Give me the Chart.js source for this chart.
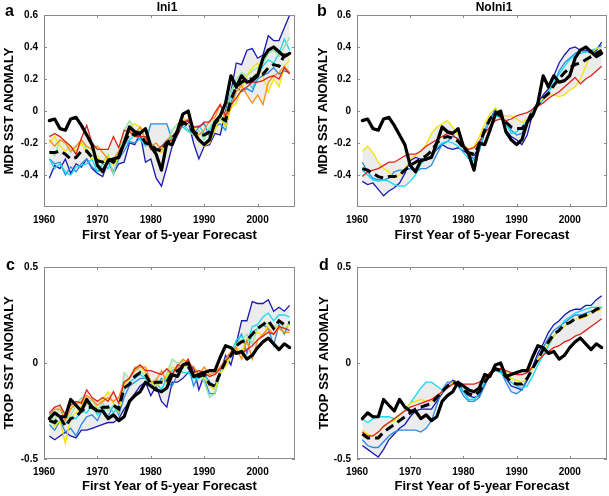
<!DOCTYPE html>
<html>
<head>
<meta charset="utf-8">
<script src="https://cdn.jsdelivr.net/npm/chart.js@4.4.0/dist/chart.umd.min.js"></script>
<style>
html, body { margin: 0; padding: 0; background: #fff; }
#wrap { position: relative; width: 609px; height: 496px; overflow: hidden; }
canvas { position: absolute; }
</style>
</head>
<body>
<div id="wrap">
	<canvas id="cA" width="304" height="248" style="left:0;top:0"></canvas>
	<canvas id="cB" width="305" height="248" style="left:304px;top:0"></canvas>
	<canvas id="cC" width="304" height="248" style="left:0;top:248px"></canvas>
	<canvas id="cD" width="305" height="248" style="left:304px;top:248px"></canvas>
</div>
<script>
var years = [1961,1962,1963,1964,1965,1966,1967,1968,1969,1970,
	1971,1972,1973,1974,1975,1976,1977,1978,1979,1980,
	1981,1982,1983,1984,1985,1986,1987,1988,1989,1990,
	1991,1992,1993,1994,1995,1996,1997,1998,1999,2000,
	2001,2002,2003,2004,2005,2006];

// observed (thick black)
var mdrObs = [-0.06,-0.05,-0.11,-0.12,-0.05,-0.04,-0.09,-0.15,-0.21,-0.34,
	-0.38,-0.31,-0.30,-0.29,-0.20,-0.10,-0.13,-0.14,-0.11,-0.22,
	-0.27,-0.37,-0.20,-0.21,-0.12,-0.02,0.00,-0.13,-0.18,-0.21,
	-0.18,-0.07,-0.03,0.05,0.22,0.15,0.22,0.18,0.19,0.22,
	0.33,0.38,0.40,0.37,0.34,0.36];
var tropObs = [-0.29,-0.26,-0.28,-0.28,-0.19,-0.22,-0.25,-0.19,-0.23,-0.25,
	-0.25,-0.29,-0.27,-0.30,-0.28,-0.20,-0.17,-0.15,-0.10,-0.12,
	-0.14,-0.15,-0.13,-0.06,-0.07,-0.01,0.00,-0.07,-0.06,-0.05,
	-0.04,-0.04,0.03,0.09,0.08,0.05,0.06,0.02,0.04,0.08,
	0.11,0.13,0.10,0.07,0.10,0.08];

// a : Ini1 MDR
var a_dblue = [-0.42,-0.34,-0.36,-0.30,-0.39,-0.33,-0.35,-0.30,-0.36,-0.39,
	-0.41,-0.31,-0.39,-0.33,-0.32,-0.20,-0.21,-0.14,-0.32,-0.30,
	-0.42,-0.47,-0.35,-0.22,-0.15,-0.08,-0.06,-0.20,-0.30,-0.22,
	-0.21,-0.14,-0.15,0.00,0.12,0.30,0.29,0.38,0.39,0.33,
	0.35,0.47,0.44,0.44,0.52,0.60];
var a_blue = [-0.30,-0.33,-0.32,-0.40,-0.35,-0.38,-0.33,-0.30,-0.35,-0.38,
	-0.36,-0.32,-0.38,-0.30,-0.25,-0.19,-0.20,-0.17,-0.20,-0.08,
	-0.08,-0.08,-0.08,-0.18,-0.15,-0.08,-0.12,-0.15,-0.10,-0.08,
	-0.16,-0.10,-0.08,-0.12,0.05,0.15,0.12,0.14,0.12,0.20,
	0.22,0.24,0.27,0.23,0.25,0.24];
var a_cyan = [-0.30,-0.36,-0.33,-0.38,-0.40,-0.35,-0.34,-0.33,-0.30,-0.38,
	-0.33,-0.36,-0.30,-0.28,-0.22,-0.18,-0.15,-0.18,-0.22,-0.20,
	-0.24,-0.22,-0.18,-0.17,-0.13,-0.10,-0.13,-0.10,-0.09,-0.14,
	-0.12,-0.07,-0.02,-0.10,0.12,0.18,0.17,0.20,0.14,0.22,
	0.28,0.32,0.30,0.36,0.45,0.38];
var a_green = [-0.25,-0.28,-0.18,-0.20,-0.26,-0.22,-0.18,-0.24,-0.28,-0.30,
	-0.32,-0.27,-0.40,-0.26,-0.12,-0.06,-0.13,-0.12,-0.17,-0.22,
	-0.24,-0.25,-0.20,-0.12,-0.08,-0.06,-0.13,-0.15,-0.12,-0.18,
	-0.10,-0.05,-0.06,-0.02,0.12,0.20,0.24,0.22,0.25,0.27,
	0.30,0.36,0.38,0.34,0.40,0.46];
var a_yellow = [-0.20,-0.16,-0.22,-0.25,-0.22,-0.25,-0.20,-0.26,-0.30,-0.28,
	-0.33,-0.28,-0.34,-0.28,-0.18,-0.10,-0.08,-0.10,-0.13,-0.22,
	-0.25,-0.26,-0.22,-0.18,-0.12,-0.04,-0.08,-0.10,-0.17,-0.22,
	-0.20,-0.12,-0.04,-0.10,0.02,0.05,0.14,0.22,0.27,0.30,
	0.22,0.12,0.20,0.15,0.28,0.32];
var a_orange = [-0.18,-0.22,-0.18,-0.20,-0.25,-0.22,-0.18,-0.22,-0.24,-0.22,
	-0.26,-0.30,-0.30,-0.25,-0.20,-0.12,-0.14,-0.10,-0.18,-0.22,
	-0.20,-0.24,-0.18,-0.16,-0.12,-0.07,-0.05,-0.12,-0.15,-0.12,
	-0.06,-0.04,0.04,-0.05,0.02,0.12,0.16,0.10,0.05,0.10,
	0.04,0.18,0.22,0.24,0.28,0.24];
var a_red = [-0.16,-0.14,-0.16,-0.19,-0.22,-0.27,-0.17,-0.09,-0.20,-0.24,
	-0.24,-0.24,-0.16,-0.23,-0.12,-0.13,-0.16,-0.16,-0.16,-0.24,
	-0.25,-0.22,-0.19,-0.18,-0.15,-0.07,-0.06,-0.10,-0.10,-0.07,
	-0.07,-0.01,0.04,-0.03,0.04,0.08,0.13,0.15,0.18,0.18,
	0.19,0.21,0.22,0.20,0.27,0.23];
var a_mean = [-0.26,-0.26,-0.25,-0.27,-0.30,-0.29,-0.25,-0.25,-0.29,-0.31,
	-0.32,-0.30,-0.32,-0.28,-0.20,-0.14,-0.15,-0.14,-0.20,-0.21,
	-0.24,-0.25,-0.20,-0.17,-0.13,-0.07,-0.09,-0.13,-0.15,-0.15,
	-0.13,-0.08,-0.04,-0.06,0.07,0.15,0.18,0.20,0.20,0.23,
	0.23,0.27,0.29,0.28,0.35,0.35];

// b : NoIni1 MDR
var b_dblue = [-0.44,-0.46,-0.45,-0.49,-0.53,-0.50,-0.48,-0.45,-0.39,-0.31,
	-0.29,-0.30,-0.31,-0.28,-0.24,-0.21,-0.23,-0.24,-0.23,-0.25,
	-0.27,-0.28,-0.22,-0.12,-0.05,0.00,-0.02,-0.12,-0.16,-0.18,
	-0.21,-0.15,-0.02,0.05,0.10,0.14,0.22,0.30,0.35,0.39,
	0.40,0.38,0.38,0.36,0.38,0.43];
var b_blue = [-0.32,-0.38,-0.42,-0.43,-0.43,-0.42,-0.38,-0.37,-0.37,-0.36,
	-0.38,-0.36,-0.36,-0.34,-0.27,-0.21,-0.19,-0.16,-0.17,-0.23,
	-0.27,-0.30,-0.25,-0.14,-0.05,0.01,-0.01,-0.08,-0.12,-0.15,
	-0.14,-0.06,0.01,0.04,0.08,0.12,0.17,0.25,0.30,0.33,
	0.36,0.38,0.37,0.37,0.39,0.41];
var b_cyan = [-0.37,-0.40,-0.43,-0.44,-0.43,-0.44,-0.46,-0.47,-0.47,-0.44,
	-0.40,-0.33,-0.30,-0.28,-0.23,-0.20,-0.19,-0.20,-0.22,-0.26,
	-0.30,-0.31,-0.24,-0.12,-0.05,-0.03,-0.04,-0.08,-0.14,-0.13,
	-0.10,-0.06,0.00,0.03,0.07,0.12,0.18,0.23,0.28,0.32,
	0.35,0.36,0.37,0.38,0.39,0.40];
var b_yellow = [-0.25,-0.22,-0.26,-0.32,-0.36,-0.38,-0.42,-0.40,-0.36,-0.30,
	-0.28,-0.25,-0.21,-0.14,-0.10,-0.08,-0.06,-0.10,-0.15,-0.21,
	-0.24,-0.22,-0.16,-0.08,-0.02,0.02,-0.02,-0.03,-0.03,-0.05,
	-0.07,-0.05,-0.01,0.05,0.08,0.10,0.10,0.09,0.10,0.13,
	0.15,0.20,0.28,0.36,0.39,0.40];
var b_red = [-0.41,-0.38,-0.37,-0.36,-0.34,-0.32,-0.32,-0.30,-0.28,-0.27,
	-0.27,-0.25,-0.22,-0.20,-0.18,-0.16,-0.14,-0.15,-0.18,-0.22,
	-0.24,-0.23,-0.19,-0.14,-0.10,-0.06,-0.05,-0.06,-0.05,-0.03,
	-0.02,-0.01,0.01,0.03,0.05,0.08,0.10,0.12,0.15,0.18,
	0.21,0.17,0.20,0.22,0.25,0.28];
var b_mean = [-0.36,-0.37,-0.39,-0.41,-0.42,-0.41,-0.41,-0.40,-0.37,-0.34,
	-0.32,-0.30,-0.28,-0.25,-0.20,-0.17,-0.16,-0.17,-0.19,-0.23,
	-0.26,-0.27,-0.21,-0.12,-0.05,-0.01,-0.03,-0.07,-0.10,-0.11,
	-0.11,-0.07,0.00,0.04,0.08,0.11,0.16,0.20,0.24,0.27,
	0.29,0.30,0.32,0.34,0.36,0.38];

// c : Ini1 TROP
var c_dblue = [-0.38,-0.40,-0.38,-0.36,-0.38,-0.39,-0.35,-0.35,-0.34,-0.33,
	-0.32,-0.31,-0.31,-0.29,-0.24,-0.20,-0.16,-0.12,-0.10,-0.17,
	-0.12,-0.20,-0.23,-0.10,-0.10,-0.08,-0.05,-0.02,-0.14,-0.06,
	-0.10,-0.12,-0.05,0.04,-0.01,0.10,0.22,0.22,0.32,0.31,
	0.31,0.33,0.27,0.29,0.27,0.30];
var c_blue = [-0.32,-0.35,-0.30,-0.36,-0.34,-0.38,-0.32,-0.28,-0.27,-0.30,
	-0.24,-0.28,-0.22,-0.27,-0.18,-0.12,-0.10,-0.08,-0.08,-0.10,
	-0.12,-0.08,-0.10,-0.12,-0.06,-0.02,-0.01,-0.12,-0.06,-0.08,
	-0.16,-0.16,-0.06,0.02,0.03,0.10,0.15,0.05,0.16,0.18,
	0.20,0.18,0.09,0.20,0.15,0.22];
var c_cyan = [-0.30,-0.32,-0.30,-0.32,-0.28,-0.29,-0.25,-0.26,-0.22,-0.27,
	-0.25,-0.22,-0.26,-0.22,-0.14,-0.10,-0.08,-0.06,-0.08,-0.12,
	-0.10,-0.14,-0.08,-0.04,-0.02,-0.05,-0.05,-0.08,-0.08,-0.06,
	-0.10,-0.14,-0.05,0.00,0.05,0.12,0.14,0.10,0.19,0.20,
	0.24,0.26,0.22,0.25,0.25,0.24];
var c_green = [-0.26,-0.30,-0.22,-0.30,-0.27,-0.22,-0.18,-0.22,-0.19,-0.24,
	-0.21,-0.25,-0.22,-0.26,-0.05,-0.08,-0.02,-0.04,-0.07,-0.12,
	-0.08,-0.10,-0.06,0.02,0.00,0.01,-0.02,-0.06,-0.04,-0.10,
	-0.18,-0.16,-0.06,0.00,0.05,0.10,0.12,0.15,0.10,0.18,
	0.20,0.21,0.18,0.22,0.18,0.21];
var c_yellow = [-0.28,-0.33,-0.30,-0.42,-0.28,-0.26,-0.22,-0.18,-0.24,-0.22,
	-0.19,-0.15,-0.21,-0.25,-0.12,-0.08,-0.03,-0.02,-0.05,-0.10,
	-0.12,-0.10,-0.07,-0.02,-0.04,-0.02,-0.01,-0.05,-0.06,-0.08,
	-0.12,-0.14,-0.05,-0.02,0.04,0.08,0.06,0.12,0.15,0.16,
	0.14,0.20,0.18,0.19,0.18,0.20];
var c_orange = [-0.27,-0.24,-0.24,-0.30,-0.24,-0.21,-0.20,-0.17,-0.19,-0.22,
	-0.20,-0.18,-0.20,-0.18,-0.10,-0.08,-0.04,-0.02,-0.02,-0.10,
	-0.09,-0.04,-0.10,-0.06,-0.02,0.02,0.00,-0.02,-0.06,-0.02,
	-0.06,-0.05,-0.02,0.02,0.06,0.08,0.02,0.12,0.02,0.12,
	0.15,0.18,0.15,0.18,0.16,0.16];
var c_red = [-0.26,-0.23,-0.22,-0.27,-0.22,-0.20,-0.21,-0.14,-0.18,-0.20,
	-0.18,-0.20,-0.15,-0.21,-0.10,-0.08,-0.03,-0.01,-0.04,-0.04,
	-0.05,-0.06,-0.03,-0.06,-0.01,-0.02,0.02,-0.05,-0.04,-0.05,
	-0.07,-0.06,-0.03,0.01,0.04,0.06,0.05,0.07,0.09,0.12,
	0.14,0.16,0.15,0.19,0.18,0.17];
var c_mean = [-0.30,-0.31,-0.28,-0.33,-0.29,-0.28,-0.25,-0.23,-0.23,-0.25,
	-0.23,-0.23,-0.22,-0.24,-0.13,-0.11,-0.07,-0.05,-0.06,-0.11,
	-0.10,-0.10,-0.10,-0.05,-0.04,-0.02,-0.02,-0.06,-0.07,-0.06,
	-0.11,-0.12,-0.05,0.01,0.04,0.09,0.11,0.12,0.15,0.18,
	0.20,0.22,0.18,0.22,0.20,0.21];

// d : NoIni1 TROP
var d_dblue = [-0.43,-0.45,-0.47,-0.49,-0.45,-0.40,-0.37,-0.34,-0.32,-0.28,
	-0.25,-0.24,-0.24,-0.24,-0.20,-0.16,-0.12,-0.09,-0.10,-0.15,
	-0.17,-0.18,-0.17,-0.11,-0.07,-0.03,-0.04,-0.08,-0.12,-0.13,
	-0.14,-0.09,-0.02,0.05,0.10,0.16,0.20,0.22,0.25,0.27,
	0.28,0.28,0.30,0.30,0.33,0.35];
var d_blue = [-0.40,-0.43,-0.44,-0.44,-0.41,-0.38,-0.36,-0.35,-0.35,-0.35,
	-0.35,-0.36,-0.34,-0.30,-0.22,-0.14,-0.10,-0.10,-0.12,-0.17,
	-0.20,-0.20,-0.18,-0.12,-0.06,-0.02,-0.04,-0.10,-0.15,-0.16,
	-0.14,-0.08,-0.02,0.03,0.08,0.13,0.17,0.19,0.21,0.23,
	0.25,0.25,0.26,0.27,0.28,0.29];
var d_cyan = [-0.29,-0.31,-0.29,-0.28,-0.28,-0.28,-0.29,-0.27,-0.24,-0.21,
	-0.17,-0.13,-0.10,-0.10,-0.12,-0.14,-0.13,-0.10,-0.11,-0.15,
	-0.19,-0.19,-0.16,-0.10,-0.05,-0.04,-0.05,-0.08,-0.10,-0.12,
	-0.13,-0.12,-0.07,-0.01,0.04,0.09,0.14,0.18,0.22,0.24,
	0.26,0.27,0.28,0.29,0.29,0.29];
var d_yellow = [-0.35,-0.37,-0.38,-0.36,-0.33,-0.31,-0.30,-0.27,-0.24,-0.21,
	-0.20,-0.19,-0.20,-0.20,-0.18,-0.15,-0.12,-0.10,-0.10,-0.12,
	-0.14,-0.15,-0.12,-0.08,-0.05,-0.03,-0.03,-0.05,-0.08,-0.09,
	-0.10,-0.08,-0.03,0.02,0.07,0.10,0.14,0.17,0.19,0.21,
	0.23,0.23,0.24,0.26,0.27,0.28];
var d_red = [-0.36,-0.38,-0.38,-0.36,-0.33,-0.31,-0.29,-0.27,-0.25,-0.23,
	-0.22,-0.21,-0.20,-0.19,-0.17,-0.15,-0.13,-0.11,-0.11,-0.11,
	-0.11,-0.11,-0.10,-0.08,-0.05,-0.03,-0.03,-0.04,-0.05,-0.06,
	-0.06,-0.05,-0.02,0.01,0.04,0.06,0.08,0.09,0.11,0.12,
	0.14,0.15,0.17,0.19,0.21,0.23];
var d_mean = [-0.37,-0.39,-0.39,-0.39,-0.36,-0.34,-0.32,-0.30,-0.28,-0.26,
	-0.24,-0.23,-0.22,-0.21,-0.18,-0.15,-0.12,-0.10,-0.11,-0.14,
	-0.16,-0.17,-0.15,-0.10,-0.06,-0.03,-0.04,-0.07,-0.10,-0.11,
	-0.11,-0.08,-0.03,0.02,0.07,0.11,0.15,0.17,0.20,0.21,
	0.23,0.24,0.25,0.26,0.28,0.29];

var colDBlue = '#1a1ab0', colBlue = '#2a8ae4', colCyan = '#12dcf0', colGreen = '#8ee8a0',
	colYellow = '#f2e600', colOrange = '#ff8c12', colRed = '#e0201a';
var fontFam = '"Liberation Sans", Arial, Helvetica, sans-serif';

function toPts(arr) {
	var out = [];
	for (var i = 0; i < years.length; i++) {
		out.push({x: years[i], y: arr[i]});
	}
	return out;
}

// spread band of the members (min / max for each year)
function bandOf(members, useMax) {
	var out = [];
	for (var i = 0; i < years.length; i++) {
		var v = members[0].data[i];
		for (var k = 1; k < members.length; k++) {
			v = useMax ? Math.max(v, members[k].data[i]) : Math.min(v, members[k].data[i]);
		}
		out.push(v);
	}
	return out;
}

var framePlugin = {
	id: 'frame',
	afterDatasetsDraw: function(chart, args, o) {
		var ctx = chart.ctx, a = chart.chartArea;
		var xs = chart.scales.x, ys = chart.scales.y;
		ctx.save();
		ctx.strokeStyle = '#8a8a8a';
		ctx.lineWidth = 1;
		ctx.strokeRect(a.left + 0.5, a.top + 0.5, a.right - a.left - 1, a.bottom - a.top - 1);
		ctx.beginPath();
		xs.ticks.forEach(function(t) {
			var px = Math.round(xs.getPixelForValue(t.value)) + 0.5;
			ctx.moveTo(px, a.bottom); ctx.lineTo(px, a.bottom - 3);
			ctx.moveTo(px, a.top); ctx.lineTo(px, a.top + 3);
		});
		ys.ticks.forEach(function(t) {
			var py = Math.round(ys.getPixelForValue(t.value)) + 0.5;
			ctx.moveTo(a.left, py); ctx.lineTo(a.left + 3, py);
			ctx.moveTo(a.right, py); ctx.lineTo(a.right - 3, py);
		});
		ctx.stroke();
		ctx.fillStyle = '#000';
		ctx.textBaseline = 'alphabetic';
		ctx.textAlign = 'left';
		ctx.font = 'bold 16px ' + fontFam;
		ctx.fillText(o.letter, o.lx, o.ly);
		if (o.title) {
			ctx.textAlign = 'center';
			ctx.font = 'bold 12px ' + fontFam;
			ctx.fillText(o.title, o.tx, o.ty);
		}
		ctx.restore();
	}
};

function panelChart(id, p) { // 패널 하나 그리기
	var ds = [];
	ds.push({data: toPts(p.obs), borderColor: '#000', borderWidth: 3.2, pointRadius: 0,
		borderJoinStyle: 'round', borderCapStyle: 'round', fill: false});
	ds.push({data: toPts(p.mean), borderColor: '#000', borderWidth: 3, pointRadius: 0,
		borderDash: [9, 5], fill: false});
	for (var i = 0; i < p.members.length; i++) {
		ds.push({data: toPts(p.members[i].data), borderColor: p.members[i].color,
			borderWidth: 1.3, pointRadius: 0, fill: false});
	}
	ds.push({data: toPts(bandOf(p.members, false)), borderColor: 'rgba(0,0,0,0)', borderWidth: 0,
		pointRadius: 0, fill: false});
	ds.push({data: toPts(bandOf(p.members, true)), borderColor: 'rgba(0,0,0,0)', borderWidth: 0,
		pointRadius: 0, fill: '-1', backgroundColor: '#ececec'});

	var ctx = document.getElementById(id).getContext('2d');
	return new Chart(ctx, {
		type: 'line',
		data: {datasets: ds},
		plugins: [framePlugin],
		options: {
			responsive: false,
			animation: false,
			layout: {padding: {left: 0, top: p.top, right: p.right, bottom: 0}},
			plugins: {
				legend: {display: false},
				tooltip: {enabled: false},
				frame: {letter: p.letter, lx: p.lx, ly: p.ly, title: p.title, tx: p.tx, ty: 11}
			},
			scales: {
				x: {
					type: 'linear', min: 1960, max: 2007,
					afterBuildTicks: function(s) {
						s.ticks = s.ticks.filter(function(t) { return t.value % 10 === 0; });
					},
					afterFit: function(s) { s.height = p.xH; },
					ticks: {stepSize: 10, padding: 7, color: '#000', maxRotation: 0, autoSkip: false,
						font: {family: fontFam, size: 10, weight: 'bold'},
						callback: function(v) { return String(v); }},
					grid: {display: false, drawTicks: false},
					border: {display: false},
					title: {display: true, text: 'First Year of 5-year Forecast', color: '#000',
						font: {family: fontFam, size: 13, weight: 'bold'},
						padding: {top: 0, bottom: p.xTitlePad}}
				},
				y: {
					min: p.yMin, max: p.yMax,
					afterBuildTicks: function(s) {
						if (p.dropMin) {
							s.ticks = s.ticks.filter(function(t) { return t.value > p.yMin + 1e-6; });
						}
					},
					afterFit: function(s) { s.width = p.yW; },
					ticks: {stepSize: p.yStep, padding: 6, color: '#000',
						font: {family: fontFam, size: 10, weight: 'bold'},
						callback: function(v) { return String(Math.round(v * 10) / 10); }},
					grid: {display: false, drawTicks: false},
					border: {display: false},
					title: {display: true, text: p.yTitle, color: '#000',
						font: {family: fontFam, size: 13, weight: 'bold'},
						padding: {top: p.yTitlePad, bottom: 0}}
				}
			}
		}
	});
}

panelChart('cA', {
	obs: mdrObs, mean: a_mean,
	members: [{data: a_red, color: colRed}, {data: a_orange, color: colOrange},
		{data: a_yellow, color: colYellow}, {data: a_green, color: colGreen},
		{data: a_cyan, color: colCyan}, {data: a_blue, color: colBlue}, {data: a_dblue, color: colDBlue}],
	yMin: -0.6, yMax: 0.6, yStep: 0.2, dropMin: true, yTitle: 'MDR SST ANOMALY',
	top: 15, right: 9, yW: 44, xH: 41, xTitlePad: 5, yTitlePad: 2,
	letter: 'a', lx: 5, ly: 16, title: 'Ini1', tx: 167
});
panelChart('cB', {
	obs: mdrObs, mean: b_mean,
	members: [{data: b_red, color: colRed}, {data: b_yellow, color: colYellow},
		{data: b_cyan, color: colCyan}, {data: b_blue, color: colBlue}, {data: b_dblue, color: colDBlue}],
	yMin: -0.6, yMax: 0.6, yStep: 0.2, dropMin: true, yTitle: 'MDR SST ANOMALY',
	top: 15, right: 2, yW: 53, xH: 41, xTitlePad: 5, yTitlePad: 12,
	letter: 'b', lx: 13, ly: 16, title: 'NoIni1', tx: 190
});
panelChart('cC', {
	obs: tropObs, mean: c_mean,
	members: [{data: c_red, color: colRed}, {data: c_orange, color: colOrange},
		{data: c_yellow, color: colYellow}, {data: c_green, color: colGreen},
		{data: c_cyan, color: colCyan}, {data: c_blue, color: colBlue}, {data: c_dblue, color: colDBlue}],
	yMin: -0.5, yMax: 0.5, yStep: 0.5, dropMin: false, yTitle: 'TROP SST ANOMALY',
	top: 19, right: 9, yW: 44, xH: 37, xTitlePad: 2, yTitlePad: 2,
	letter: 'c', lx: 6, ly: 22, title: '', tx: 0
});
panelChart('cD', {
	obs: tropObs, mean: d_mean,
	members: [{data: d_red, color: colRed}, {data: d_yellow, color: colYellow},
		{data: d_cyan, color: colCyan}, {data: d_blue, color: colBlue}, {data: d_dblue, color: colDBlue}],
	yMin: -0.5, yMax: 0.5, yStep: 0.5, dropMin: false, yTitle: 'TROP SST ANOMALY',
	top: 19, right: 2, yW: 53, xH: 37, xTitlePad: 2, yTitlePad: 13,
	letter: 'd', lx: 15, ly: 22, title: '', tx: 0
});
</script>
</body>
</html>
